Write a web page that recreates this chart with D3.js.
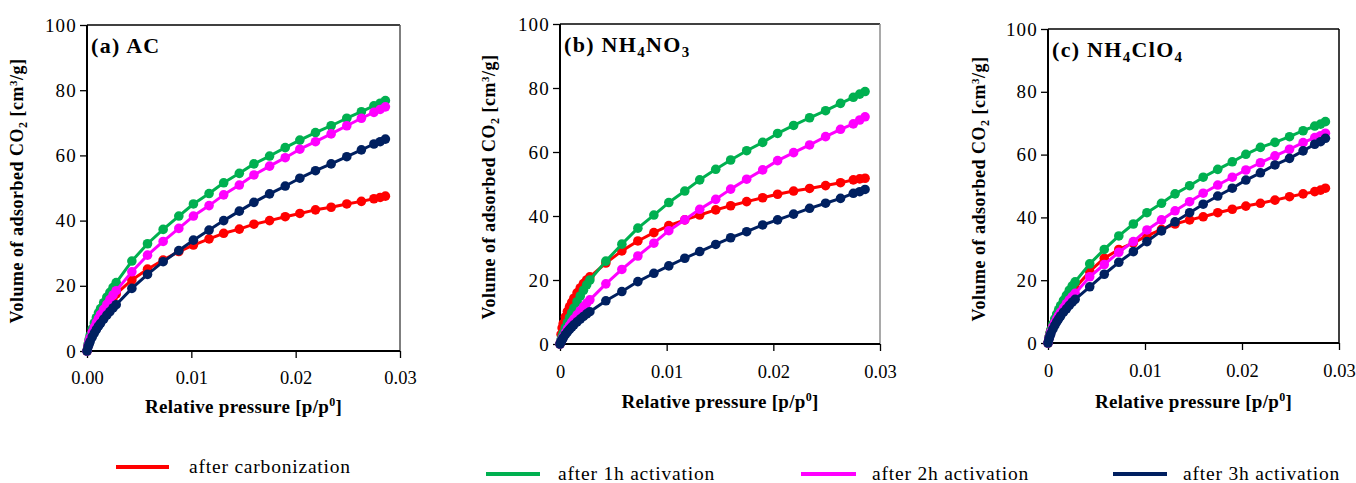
<!DOCTYPE html>
<html>
<head>
<meta charset="utf-8">
<script src="https://cdn.jsdelivr.net/npm/d3@7"></script>
<style>
  html, body { margin: 0; padding: 0; background: #fff; }
  svg { display: block; }
  text { font-family: "Liberation Serif", "DejaVu Serif", serif; fill: #000; }
</style>
</head>
<body>
<svg id="chart" width="1356" height="483"></svg>
<script>
// Relative pressure grid shared by all isotherms [p/p0]
const pressure = [0, 0.0001, 0.0002, 0.0003, 0.0005, 0.0007, 0.0009, 0.0011, 0.0013, 0.0016, 0.0019,
  0.0022, 0.0025, 0.0028, 0.0043, 0.0058, 0.0073, 0.0088, 0.0102, 0.0117, 0.0131, 0.0146, 0.0160,
  0.0175, 0.0190, 0.0204, 0.0219, 0.0234, 0.0249, 0.0263, 0.0275, 0.0281, 0.0286];

// (a) AC – adsorbed CO2 volume [cm3/g]
const acCarbonization = [0, 1.6, 2.8, 3.9, 5.6, 7.1, 8.4, 9.6, 10.7, 12.2, 13.6, 15.0, 16.3, 17.5, 21.8, 25.1, 27.9, 30.5, 32.5, 34.4, 36.1, 37.4, 38.9, 40.0, 41.2, 42.2, 43.3, 44.1, 45.1, 45.9, 46.7, 47.1, 47.5];
const acAct1h = [0, 2.0, 3.5, 4.8, 6.8, 8.6, 10.2, 11.7, 13.0, 14.8, 16.5, 18.0, 19.5, 21.0, 27.6, 32.9, 37.3, 41.4, 45.1, 48.3, 51.6, 54.5, 57.4, 59.8, 62.4, 64.7, 67.0, 69.1, 71.4, 73.4, 75.2, 76.0, 76.8];
const acAct2h = [0, 1.6, 2.9, 4.0, 5.8, 7.3, 8.7, 10.0, 11.2, 12.8, 14.3, 15.8, 17.2, 18.5, 24.3, 29.4, 33.6, 37.6, 41.4, 44.6, 47.9, 50.9, 54.0, 56.7, 59.3, 61.9, 64.2, 66.6, 69.1, 71.4, 73.2, 74.1, 74.9];
const acAct3h = [0, 1.2, 2.1, 2.9, 4.3, 5.5, 6.6, 7.6, 8.5, 9.8, 11.0, 12.1, 13.2, 14.2, 19.2, 23.5, 27.4, 30.8, 34.0, 37.1, 40.0, 42.9, 45.6, 48.2, 50.6, 53.0, 55.3, 57.4, 59.6, 61.7, 63.5, 64.2, 65.0];

// (b) NH4NO3
const nitCarbonization = [0, 3.0, 5.0, 6.4, 8.5, 10.2, 11.7, 13.0, 14.3, 16.0, 17.5, 18.9, 20.0, 21.0, 25.3, 29.1, 32.2, 34.8, 37.0, 38.8, 40.3, 41.9, 43.2, 44.5, 45.7, 46.8, 47.8, 48.6, 49.5, 50.4, 51.3, 51.6, 51.8];
const nitAct1h = [0, 1.3, 2.4, 3.4, 5.1, 6.7, 8.3, 9.8, 11.2, 13.2, 15.0, 16.8, 18.5, 20.0, 25.9, 31.2, 36.2, 40.3, 44.2, 47.8, 51.3, 54.6, 57.5, 60.4, 63.0, 65.8, 68.3, 70.7, 72.9, 75.2, 77.1, 78.1, 78.9];
const nitAct2h = [0, 0.8, 1.5, 2.2, 3.5, 4.7, 5.8, 6.8, 7.8, 9.1, 10.4, 11.6, 12.7, 13.8, 18.8, 23.3, 27.5, 31.5, 35.4, 38.8, 42.1, 45.2, 48.4, 51.5, 54.4, 57.3, 59.8, 62.2, 64.8, 67.1, 68.8, 70.0, 71.0];
const nitAct3h = [0, 0.7, 1.3, 1.9, 2.9, 3.8, 4.6, 5.3, 6.0, 6.9, 7.8, 8.6, 9.4, 10.1, 13.5, 16.4, 19.5, 22.1, 24.4, 26.8, 28.9, 31.1, 33.2, 35.1, 37.2, 38.8, 40.6, 42.4, 44.0, 45.5, 47.1, 47.6, 48.3];

// (c) NH4ClO4
const clCarbonization = [0, 1.7, 3.0, 4.1, 5.8, 7.3, 8.6, 9.8, 10.9, 12.4, 13.8, 15.1, 16.4, 17.5, 22.8, 27.0, 29.8, 31.9, 34.1, 36.2, 37.9, 39.2, 40.2, 41.5, 42.6, 43.6, 44.5, 45.5, 46.6, 47.5, 48.2, 48.7, 49.3];
const clAct1h = [0, 1.8, 3.1, 4.2, 6.0, 7.7, 9.2, 10.6, 11.9, 13.6, 15.2, 16.8, 18.2, 19.5, 25.2, 29.8, 34.1, 37.9, 41.5, 44.5, 47.5, 50.1, 52.8, 55.3, 57.7, 60.1, 62.3, 63.9, 65.7, 67.6, 69.1, 69.7, 70.5];
const clAct2h = [0, 1.4, 2.5, 3.5, 5.1, 6.5, 7.7, 8.8, 9.8, 11.2, 12.5, 13.7, 14.8, 15.8, 21.1, 25.0, 28.9, 32.3, 36.0, 39.2, 42.1, 45.0, 47.7, 50.3, 52.8, 55.1, 57.4, 59.6, 61.7, 63.8, 65.4, 66.0, 66.8];
const clAct3h = [0, 1.2, 2.2, 3.0, 4.4, 5.6, 6.7, 7.7, 8.6, 9.8, 10.9, 12.0, 13.0, 13.9, 17.9, 21.9, 25.7, 29.1, 32.3, 35.7, 38.6, 41.5, 44.2, 46.8, 49.3, 51.9, 54.2, 56.7, 58.8, 61.2, 63.3, 64.1, 65.2];

// Series names, colours and axis ticks
const seriesNames = ["after carbonization", "after 1h activation", "after 2h activation", "after 3h activation"];
const seriesColors = ["#ff0000", "#00b050", "#ff00ff", "#002060"];
const yTicks = [0, 20, 40, 60, 80, 100];
const xTicks = [0, 0.01, 0.02, 0.03];
const xTickLabelsA = ["0.00", "0.01", "0.02", "0.03"];
const xTickLabelsBC = ["0", "0.01", "0.02", "0.03"];

const panels = [
  { title: ["(a) AC"], series: [acCarbonization, acAct1h, acAct2h, acAct3h], xLabels: xTickLabelsA,
    box: { l: 87, r: 400, t: 25, b: 351 }, rightStroke: "#555", yTitleX: 23, xTitleY: 413, tickY: 384 },
  { title: ["(b) NH", "4", "NO", "3"], series: [nitCarbonization, nitAct1h, nitAct2h, nitAct3h], xLabels: xTickLabelsBC,
    box: { l: 560, r: 880, t: 24, b: 344 }, rightStroke: "#8c8c8c", yTitleX: 495, xTitleY: 408, tickY: 378 },
  { title: ["(c) NH", "4", "ClO", "4"], series: [clCarbonization, clAct1h, clAct2h, clAct3h], xLabels: xTickLabelsBC,
    box: { l: 1048, r: 1339, t: 29, b: 343 }, rightStroke: "#000", yTitleX: 985, xTitleY: 408, tickY: 377 }
];

const svg = d3.select("#chart");

panels.forEach(p => {
  const { l, r, t, b } = p.box;
  const x = d3.scaleLinear().domain([0, 0.03]).range([l, r]);
  const y = d3.scaleLinear().domain([0, 100]).range([b, t]);
  const g = svg.append("g");

  // frame: top and right
  g.append("line").attr("x1", l).attr("x2", r).attr("y1", t).attr("y2", t)
    .attr("stroke", "#000").attr("stroke-width", 1.5);
  g.append("line").attr("x1", r).attr("x2", r).attr("y1", t).attr("y2", b)
    .attr("stroke", p.rightStroke).attr("stroke-width", 1.5);

  // y axis
  const yAxis = g.append("g").attr("transform", `translate(${l},0)`)
    .call(d3.axisLeft(y).tickValues(yTicks).tickSize(7).tickPadding(3).tickFormat(d3.format("d")));
  yAxis.select(".domain").attr("stroke", "#000").attr("stroke-width", 2).attr("d", `M0,${t}V${b}`);
  yAxis.selectAll(".tick line").attr("stroke", "#000").attr("stroke-width", 1.3);
  yAxis.selectAll(".tick text").attr("font-family", "Liberation Serif").attr("font-size", 19)
    .attr("letter-spacing", 1.2).attr("fill", "#111");

  // x axis
  const xAxis = g.append("g").attr("transform", `translate(0,${b})`)
    .call(d3.axisBottom(x).tickValues(xTicks).tickSize(7).tickPadding(0).tickFormat((d, i) => p.xLabels[i]));
  xAxis.select(".domain").attr("stroke", "#000").attr("stroke-width", 2).attr("d", `M${l},0H${r}`);
  xAxis.selectAll(".tick line").attr("stroke", "#000").attr("stroke-width", 1.3);
  xAxis.selectAll(".tick text").attr("font-family", "Liberation Serif").attr("font-size", 18.5)
    .attr("fill", "#111").attr("dy", null).attr("y", p.tickY - b);

  // isotherms: line + markers per series
  const line = d3.line().x((d, i) => x(pressure[i])).y(d => y(d));
  p.series.forEach((vals, si) => {
    const sg = g.append("g");
    sg.append("path").datum(vals).attr("d", line).attr("fill", "none")
      .attr("stroke", seriesColors[si]).attr("stroke-width", 3).attr("stroke-linejoin", "round");
    sg.selectAll("circle").data(vals).join("circle")
      .attr("cx", (d, i) => x(pressure[i])).attr("cy", d => y(d)).attr("r", 4.8)
      .attr("fill", seriesColors[si]);
  });

  // panel title with subscripts
  const tt = g.append("text").attr("x", l + 4).attr("y", t + 28)
    .attr("font-size", 22).attr("font-weight", "bold").attr("letter-spacing", 1.3);
  p.title.forEach((s, i) => {
    const sub = i % 2 === 1;
    tt.append("tspan").text(s).attr("font-size", sub ? 15 : 22)
      .attr("dy", sub ? 5 : (i === 0 ? 0 : -5));
  });

  // y axis title
  const yt = g.append("text").attr("transform", `translate(${p.yTitleX},${(t + b) / 2 + 3}) rotate(-90)`)
    .attr("text-anchor", "middle").attr("font-size", 18).attr("font-weight", "bold").attr("letter-spacing", 0.5);
  yt.append("tspan").text("Volume of adsorbed CO");
  yt.append("tspan").text("2").attr("font-size", 12).attr("dy", 4);
  yt.append("tspan").text(" [cm").attr("dy", -4);
  yt.append("tspan").text("3").attr("font-size", 11).attr("dy", -6);
  yt.append("tspan").text("/g]").attr("dy", 6);

  // x axis title
  const xt = g.append("text").attr("x", (l + r) / 2).attr("y", p.xTitleY)
    .attr("text-anchor", "middle").attr("font-size", 19).attr("font-weight", "bold").attr("letter-spacing", 0.3);
  xt.append("tspan").text("Relative pressure [p/p");
  xt.append("tspan").text("0").attr("font-size", 12).attr("dy", -7);
  xt.append("tspan").text("]").attr("dy", 7);
});

// legend
const legendPos = [
  { x1: 116, x2: 169, y: 467, tx: 189 },
  { x1: 486, x2: 540, y: 474, tx: 558 },
  { x1: 801, x2: 856, y: 474, tx: 872 },
  { x1: 1113, x2: 1167, y: 474, tx: 1183 }
];
const legend = svg.append("g");
seriesNames.forEach((name, i) => {
  const lp = legendPos[i];
  legend.append("line").attr("x1", lp.x1).attr("x2", lp.x2).attr("y1", lp.y).attr("y2", lp.y)
    .attr("stroke", seriesColors[i]).attr("stroke-width", 4);
  legend.append("text").attr("x", lp.tx).attr("y", lp.y + 6).attr("font-size", 19.5)
    .attr("letter-spacing", 0.8).attr("fill", "#222").text(name);
});
</script>
</body>
</html>
